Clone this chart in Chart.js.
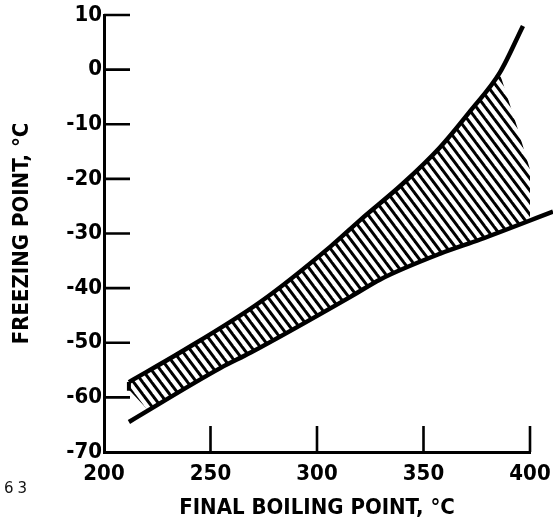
<!DOCTYPE html>
<html>
<head>
<meta charset="utf-8">
<script src="https://cdn.jsdelivr.net/npm/chart.js@4.4.1/dist/chart.umd.min.js"></script>
<style>
  html, body { margin: 0; padding: 0; background: #fff; }
  #wrap { position: relative; width: 553px; height: 527px; }
  #pageNo { position: absolute; left: 4px; top: 479px; font: 15px 'DejaVu Sans', sans-serif; letter-spacing: 4px; color: #111; }
</style>
</head>
<body>
<div id="wrap">
  <canvas id="chart" width="553" height="527"></canvas>
  <div id="pageNo">63</div>
</div>
<script>
const xTickValues = [200, 250, 300, 350, 400];
const yTickValues = [10, 0, -10, -20, -30, -40, -50, -60, -70];

// upper limit (freezing point vs final boiling point)
const upperFbp = [211.7, 236.1, 273.5, 306.3, 320.4, 340.5, 357.8, 371.9, 385.9, 396.7];
const upperFp  = [-57.2, -51.7, -42.5, -32.4, -27.5, -20.8, -14.2, -7.6, -0.5, 8.0];

// lower limit
const lowerFbp = [211.7, 254.8, 268.9, 315.7, 329.7, 357.8, 376.6, 410.8];
const lowerFp  = [-64.5, -54.6, -51.8, -41.6, -38.4, -33.7, -31.1, -26.0];

// short closing edge at the left end of the band
const edgeFbp = [211.7, 211.7];
const edgeFp  = [-57.2, -58.8];

// outline of the hatched area
const hatchTopFbp = [211.7, 236.1, 273.5, 306.3, 320.4, 340.5, 357.8, 371.9, 385.9, 393.9, 401.4, 405.6];
const hatchTopFp  = [-57.2, -51.7, -42.5, -32.4, -27.5, -20.8, -14.2, -7.6, -0.8, -10.4, -20.1, -26.8];
const hatchLowFbp = [211.7, 220.6, 254.8, 268.9, 315.7, 329.7, 357.8, 376.6, 405.6];
const hatchLowFp  = [-58.6, -62.3, -54.6, -51.8, -41.6, -38.4, -33.7, -31.1, -26.8];

const pts = (xs, ys) => xs.map((x, i) => ({x: x, y: ys[i]}));

function hatchPattern() {
  const w = 9, h = 12;
  const c = document.createElement('canvas');
  c.width = w; c.height = h;
  const g = c.getContext('2d');
  g.strokeStyle = '#000';
  g.lineWidth = 3;
  for (let k = -2; k <= 2; k++) {
    g.beginPath();
    g.moveTo(k * w - w, -h);
    g.lineTo(k * w + 2 * w, 2 * h);
    g.stroke();
  }
  return g.createPattern(c, 'repeat');
}

const fontFam = "'Liberation Sans Narrow', 'DejaVu Sans Condensed', 'Liberation Sans', sans-serif";
const tickFont = {family: fontFam, size: 22, weight: 'bold'};
const titleFont = {family: fontFam, size: 22, weight: 'bold'};

// tick marks point inward in the original
const inwardTicks = {
  id: 'inwardTicks',
  afterDraw(chart) {
    const {ctx, chartArea, scales} = chart;
    ctx.save();
    ctx.strokeStyle = '#000';
    ctx.lineWidth = 2.6;
    ctx.beginPath();
    yTickValues.forEach(v => {
      if (v === scales.y.min) return;
      const y = scales.y.getPixelForValue(v);
      ctx.moveTo(chartArea.left, y);
      ctx.lineTo(chartArea.left + 26, y);
    });
    xTickValues.forEach(v => {
      if (v === scales.x.min) return;
      const x = scales.x.getPixelForValue(v);
      ctx.moveTo(x, chartArea.bottom);
      ctx.lineTo(x, chartArea.bottom - 26);
    });
    ctx.stroke();
    ctx.restore();
  }
};

const curve = {borderColor: '#000', pointRadius: 0, fill: false, clip: false};

new Chart(document.getElementById('chart'), {
  type: 'line',
  data: {
    datasets: [
      Object.assign({data: pts(upperFbp, upperFp), borderWidth: 4.5, cubicInterpolationMode: 'monotone'}, curve),
      Object.assign({data: pts(lowerFbp, lowerFp), borderWidth: 4.5, cubicInterpolationMode: 'monotone'}, curve),
      Object.assign({data: pts(edgeFbp, edgeFp), borderWidth: 4}, curve),
      {data: pts(hatchTopFbp, hatchTopFp), borderWidth: 0, borderColor: 'rgba(0,0,0,0)', pointRadius: 0,
       tension: 0, fill: '+1', backgroundColor: hatchPattern()},
      {data: pts(hatchLowFbp, hatchLowFp), borderWidth: 0, borderColor: 'rgba(0,0,0,0)', pointRadius: 0,
       tension: 0, fill: false}
    ]
  },
  options: {
    responsive: false,
    animation: false,
    layout: {padding: {top: 15, right: 23, left: 0, bottom: 0}},
    plugins: {legend: {display: false}, tooltip: {enabled: false}},
    scales: {
      x: {
        type: 'linear',
        min: 200, max: 400,
        afterBuildTicks: s => { s.ticks = xTickValues.map(v => ({value: v})); },
        afterFit: s => { s.height = 75; s.paddingLeft = 0; s.paddingRight = 0; },
        grid: {display: false, drawTicks: false},
        border: {display: true, color: '#000', width: 3},
        ticks: {color: '#000', font: tickFont, padding: 9, maxRotation: 0},
        title: {display: true, text: 'FINAL BOILING POINT, °C', color: '#000', font: titleFont, padding: {top: 0, bottom: 6}}
      },
      y: {
        type: 'linear',
        min: -70, max: 10,
        afterBuildTicks: s => { s.ticks = yTickValues.map(v => ({value: v})); },
        afterFit: s => { s.width = 104; s.paddingTop = 0; s.paddingBottom = 0; },
        grid: {display: false, drawTicks: false},
        border: {display: true, color: '#000', width: 3},
        ticks: {color: '#000', font: tickFont, padding: 2},
        title: {display: true, text: 'FREEZING POINT, °C', color: '#000', font: titleFont, padding: {top: 9, bottom: 0}}
      }
    }
  },
  plugins: [inwardTicks]
});
</script>
</body>
</html>
